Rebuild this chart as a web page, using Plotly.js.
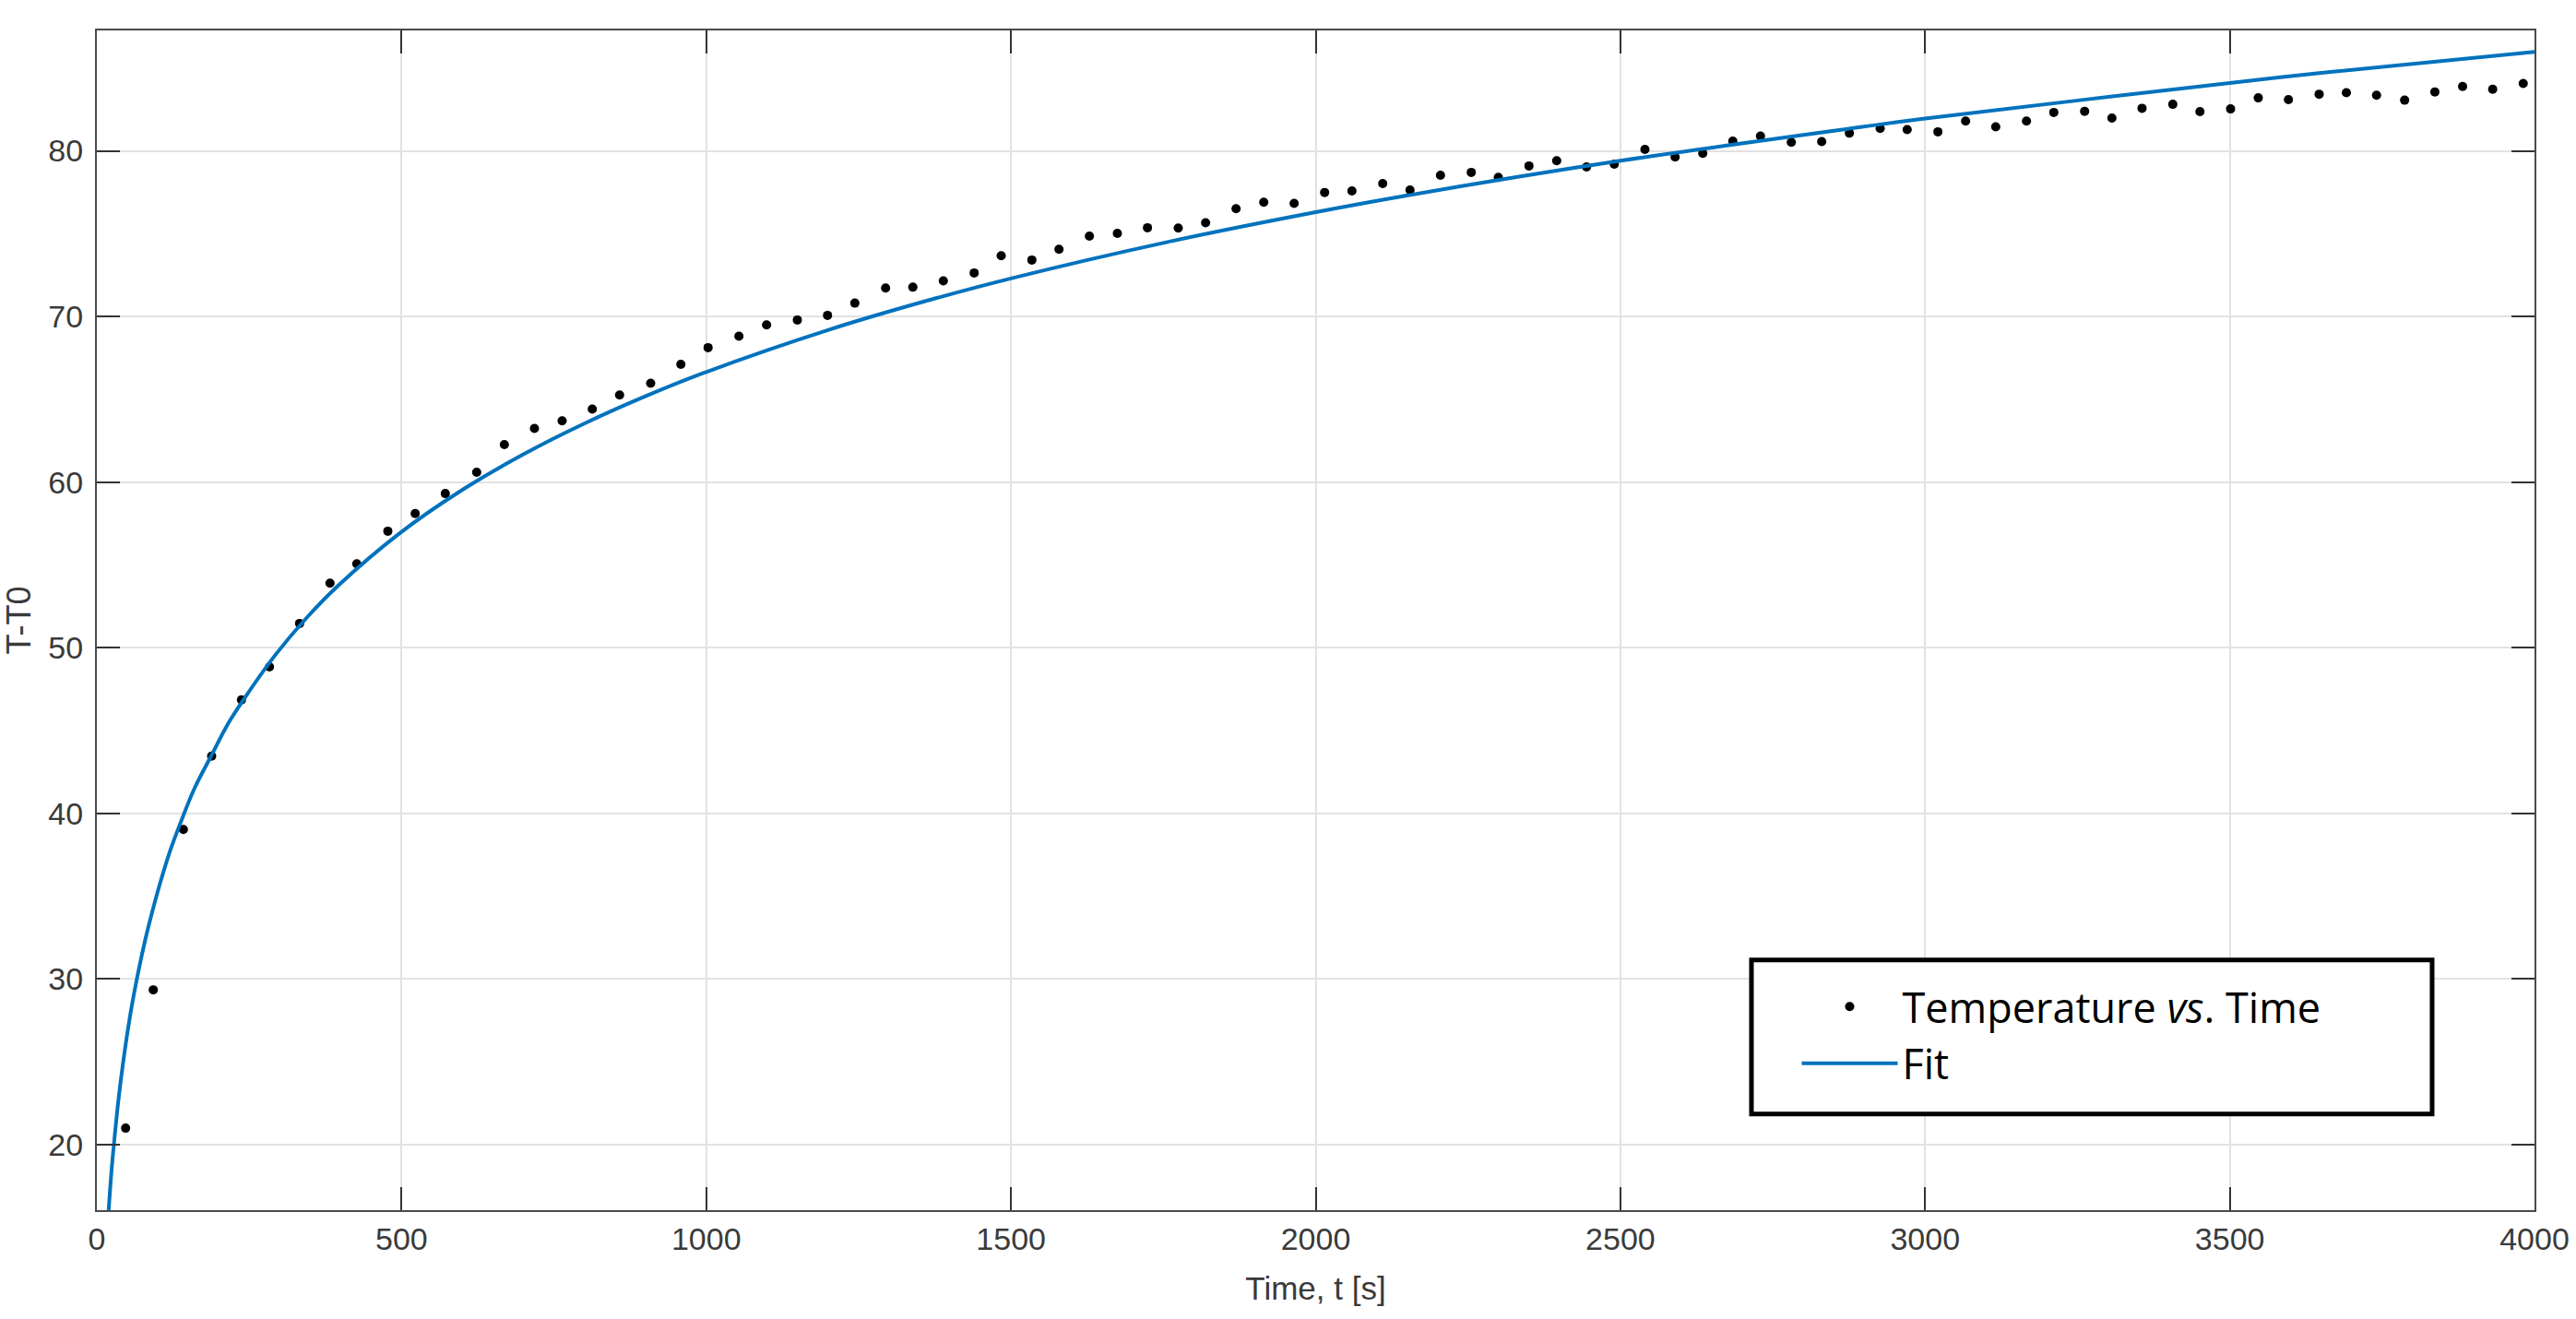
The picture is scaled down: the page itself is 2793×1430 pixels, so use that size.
<!DOCTYPE html>
<html>
<head>
<meta charset="utf-8">
<script src="https://cdn.plot.ly/plotly-3.0.1.min.js"></script>
<style>
  html, body { margin: 0; padding: 0; background: #ffffff; }
  #chart { width: 2793px; height: 1430px; }
</style>
</head>
<body>
<div id="chart"></div>
<script>
// Measured data: time [s] and temperature rise T-T0
const timeData = [47.2, 92.6, 142, 188.4, 237.3, 283.3, 332.7, 382.6, 426.5, 477.5,
  522.4, 571.8, 623.3, 668.7, 718.1, 763.5, 813, 857.8, 908.8, 958.3,
  1003, 1053.6, 1099, 1149.5, 1199, 1243.8, 1294.3, 1339, 1389, 1439.6,
  1484, 1534.3, 1578.8, 1628.7, 1674.6, 1724, 1774.5, 1819.4, 1869.4, 1914.8,
  1964.7, 2014.7, 2059.5, 2110, 2154.8, 2204.8, 2255.3, 2299.7, 2350, 2395.5,
  2444.5, 2490, 2540.3, 2589.8, 2635.2, 2684.5, 2729.9, 2780.5, 2830.4, 2875.8,
  2926.3, 2970.6, 3021, 3066.5, 3115.9, 3166.4, 3211.2, 3261.8, 3306.6, 3356,
  3406.5, 3451, 3501.3, 3546.7, 3596.2, 3646.6, 3691.3, 3740.8, 3786.9, 3836.5,
  3882, 3931.4, 3981.5];
const tempData = [21.0, 29.35, 39.03, 43.46, 46.86, 48.85, 51.47, 53.9, 55.07, 57.04,
  58.11, 59.31, 60.60, 62.27, 63.24, 63.70, 64.41, 65.26, 65.97, 67.11,
  68.12, 68.81, 69.49, 69.79, 70.07, 70.81, 71.72, 71.77, 72.15, 72.63,
  73.67, 73.41, 74.06, 74.85, 75.02, 75.36, 75.34, 75.66, 76.51, 76.90,
  76.83, 77.49, 77.58, 78.03, 77.64, 78.53, 78.70, 78.40, 79.09, 79.40,
  79.03, 79.20, 80.09, 79.63, 79.85, 80.59, 80.89, 80.52, 80.56, 81.07,
  81.35, 81.28, 81.15, 81.80, 81.45, 81.80, 82.32, 82.39, 81.98, 82.57,
  82.81, 82.37, 82.53, 83.20, 83.09, 83.42, 83.51, 83.36, 83.06, 83.56,
  83.89, 83.72, 84.07];

// Fit curve, points (smoothed readings)
const fitTime = [19.4, 24, 28.5, 35, 43, 55, 67.5, 80, 90.3, 105, 120, 138, 160, 188,
  215, 244, 294, 345, 395, 496, 597, 700, 799, 900, 1000, 1202, 1354, 1500, 1757,
  2000, 2141, 2500, 2897, 3000, 3500, 3654, 4000];
const fitTemp = [16.05, 18.39, 20.2, 22.56, 24.93, 27.88, 30.34, 32.46, 33.98, 35.94, 37.72, 39.5, 41.5, 43.5,
  45.4, 47.05, 49.62, 51.84, 53.72, 56.89, 59.47, 61.68, 63.52, 65.18, 66.65, 69.21, 70.87, 72.3, 74.5,
  76.3, 77.25, 79.4, 81.45, 81.95, 84.1, 84.72, 85.97];

const xTickVals = [0, 500, 1000, 1500, 2000, 2500, 3000, 3500, 4000];
const yTickVals = [20, 30, 40, 50, 60, 70, 80];

const seriesNames = ['Temperature <i>vs</i>. Time', 'Fit'];
const axisTitles = { x: 'Time, t [s]', y: 'T-T0' };

const traces = [
  {
    x: timeData, y: tempData, type: 'scatter', mode: 'markers',
    name: seriesNames[0],
    marker: { color: '#000000', size: 10 }
  },
  {
    x: fitTime, y: fitTemp, type: 'scatter', mode: 'lines',
    name: seriesNames[1],
    line: { color: '#0072BD', width: 4, shape: 'spline', smoothing: 1 }
  }
];

const axisCommon = {
  showline: true, linecolor: '#4a4a4a', linewidth: 2, mirror: 'ticks',
  ticks: 'inside', ticklen: 25, tickwidth: 2, tickcolor: '#333333',
  showgrid: true, gridcolor: '#e2e2e2', gridwidth: 2,
  zeroline: false, automargin: false,
  tickfont: { family: 'Liberation Sans, Arial, sans-serif', size: 34, color: '#3a3a3a' }
};

const layout = {
  width: 2793, height: 1430,
  paper_bgcolor: '#ffffff', plot_bgcolor: '#ffffff',
  margin: { l: 105, r: 45, t: 33, b: 118 },
  showlegend: true,
  xaxis: Object.assign({}, axisCommon, {
    range: [0, 4000], tickmode: 'array', tickvals: xTickVals,
    title: { text: axisTitles.x, standoff: 24,
      font: { family: 'Liberation Sans, Arial, sans-serif', size: 35, color: '#3a3a3a' } }
  }),
  yaxis: Object.assign({}, axisCommon, {
    range: [16.05, 87.27], tickmode: 'array', tickvals: yTickVals,
    ticklabelstandoff: 6,
    title: { text: axisTitles.y, standoff: 8,
      font: { family: 'Liberation Sans, Arial, sans-serif', size: 36, color: '#3a3a3a' } }
  }),
  shapes: [{
    type: 'rect', xref: 'paper', yref: 'paper',
    x0: 0.67877, x1: 0.95800, y0: 0.08147, y1: 0.21204,
    line: { color: '#000000', width: 5 }, fillcolor: '#ffffff', layer: 'above'
  }],
  legend: {
    x: 0.6975, y: 0.2005, xanchor: 'left', yanchor: 'top',
    bgcolor: 'rgba(0,0,0,0)', borderwidth: 0,
    itemwidth: 104, tracegroupgap: 0,
    font: { family: 'Open Sans, Lato, Calibri, sans-serif', size: 45, color: '#000000' }
  }
};

Plotly.newPlot('chart', traces, layout, { staticPlot: true, displayModeBar: false });
</script>
</body>
</html>
